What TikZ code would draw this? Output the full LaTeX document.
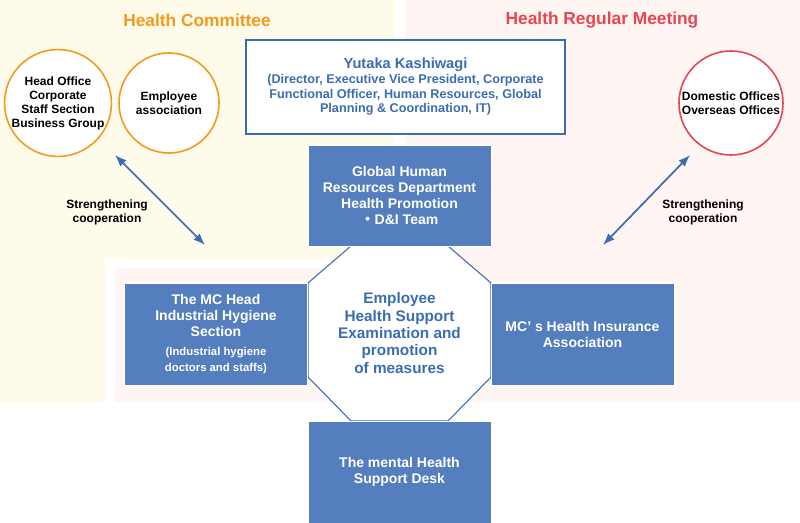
\documentclass[tikz,border=0pt]{standalone}
\usepackage{fontspec}
\setmainfont{Liberation Sans}
\newfontfamily\cjk{Noto Sans CJK JP}
\usetikzlibrary{arrows.meta}
\definecolor{mcblue}{HTML}{547EBE}
\definecolor{mctext}{HTML}{3B6DB3}
\definecolor{mcorange}{HTML}{F39A1E}
\definecolor{mcred}{HTML}{E84550}
\definecolor{mcyellow}{HTML}{FFFBEB}
\definecolor{mcpink}{HTML}{FFF5F2}
\tikzset{
    bluebox/.style={fill=mcblue, draw=white, line width=0.6pt, text=white, font=\bfseries\fontsize{10.5}{12}\selectfont, align=center},
    circ/.style={circle, draw=mcorange, line width=1.2pt, fill=white, minimum size=104pt*0.75, inner sep=0pt, align=center, font=\bfseries\fontsize{9}{10.5}\selectfont},
    lbl/.style={font=\bfseries\fontsize{9}{10.5}\selectfont, align=center},
    twoway/.style={Latex-Latex, mctext, line width=1.3pt}
}
\begin{document}
\begin{tikzpicture}[x=0.75pt, y=-0.75pt]
    \useasboundingbox (0,0) rectangle (800,523);

    % Background areas
    \fill[mcyellow] (0,0) rectangle (395,402);
    \fill[mcpink] (405,0) rectangle (800,402);
    \fill[white] (105,259) rectangle (400,402);
    \fill[mcpink] (115,268) rectangle (405,402);

    % Titles
    \node[font=\bfseries\fontsize{13}{15}\selectfont, text=mcorange] (hc) at (197,20) {Health Committee};
    \node[font=\bfseries\fontsize{13}{15}\selectfont, text=mcred] (hrm) at (602,20) {Health Regular Meeting};

    % Circles
    \node[circ] (hq) at (58,103) {Head Office\\Corporate\\Staff Section\\Business Group};
    \node[circ, minimum size=100pt*0.75] (ea) at (169,103) {Employee\\association};
    \node[circ, draw=mcred] (dom) at (731,103) {Domestic Offices\\Overseas Offices};

    % Officer
    \node[draw=mctext, line width=1pt, fill=white, minimum width=319pt*0.75, minimum height=94pt*0.75, align=center, text=mctext, font=\bfseries\fontsize{9.5}{11}\selectfont] (ceo) at (405.5,87)
        {{\fontsize{11}{13}\selectfont Yutaka Kashiwagi}\\(Director, Executive Vice President, Corporate\\Functional Officer, Human Resources, Global\\Planning \& Coordination, IT)};

    % Center octagon
    \draw[mctext, fill=white, line width=0.8pt] (351,246) -- (448,246) -- (491,283) -- (491,377) -- (448,421) -- (351,421) -- (308,377) -- (308,283) -- cycle;
    \node[text=mctext, font=\bfseries\fontsize{11.5}{13}\selectfont, align=center] (core) at (399.5,333)
        {Employee\\Health Support\\Examination and\\promotion\\of measures};

    % Blue boxes
    \node[bluebox, minimum width=183pt*0.75, minimum height=101pt*0.75] (ghr) at (399.5,195.5) {Global Human\\Resources Department\\Health Promotion\\{\cjk ・}D\&I Team};
    \node[bluebox, minimum width=183pt*0.75, minimum height=102pt*0.75] (ihs) at (216,334) {The MC Head\\Industrial Hygiene\\Section\\[2pt]{\fontsize{8.5}{10}\selectfont (Industrial hygiene}\\{\fontsize{8.5}{10}\selectfont doctors and staffs)}};
    \node[bluebox, minimum width=183pt*0.75, minimum height=102pt*0.75] (hia) at (582.5,334) {MC’ s Health Insurance\\Association};
    \node[bluebox, minimum width=183pt*0.75, minimum height=102pt*0.75] (msd) at (399.5,472) {The mental Health\\Support Desk};

    % Cooperation arrows
    \coordinate (la) at (115,155);
    \coordinate (lb) at (205,245);
    \coordinate (ra) at (690,155);
    \coordinate (rb) at (603,245);
    \draw[twoway] (la) -- (lb);
    \draw[twoway] (ra) -- (rb);
    \node[lbl] (lcoop) at (107,212) {Strengthening\\cooperation};
    \node[lbl] (rcoop) at (703,212) {Strengthening\\cooperation};
\end{tikzpicture}
\end{document}
